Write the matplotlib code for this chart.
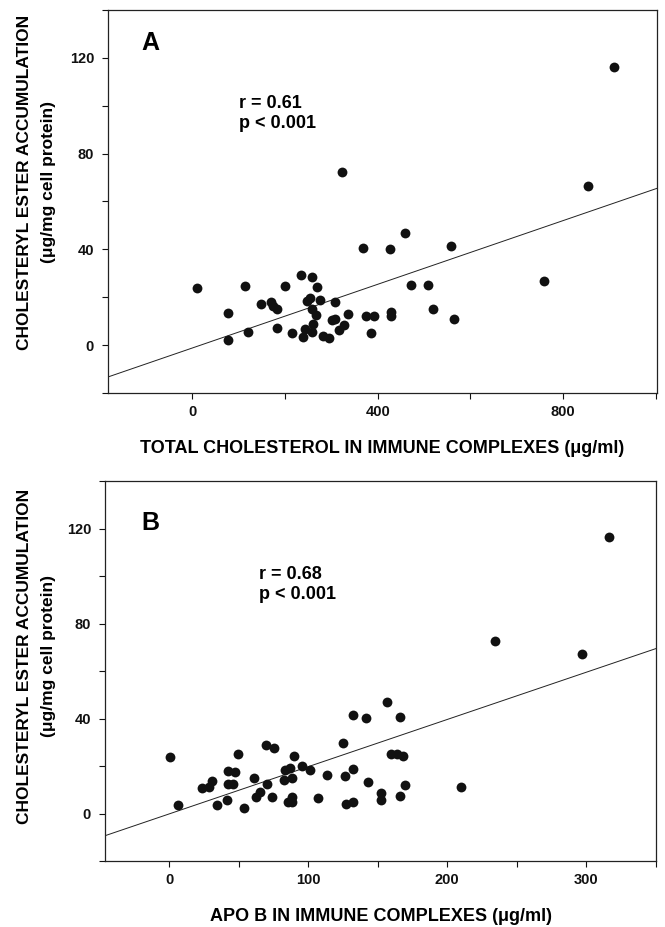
import numpy as np
import matplotlib.pyplot as plt
from matplotlib.ticker import MultipleLocator

plt.rcParams['font.family'] = ['Liberation Sans', 'DejaVu Sans']
plt.rcParams['font.weight'] = 'bold'

# panel A: total cholesterol in immune complexes (ug/ml) vs CE accumulation
chol_x = [11, 76, 76, 114, 121, 149, 170, 175, 183, 183, 199, 216, 235, 238,
          243, 248, 254, 258, 259, 260, 259, 269, 268, 275, 282, 296, 302, 307,
          308, 316, 327, 337, 368, 375, 385, 393, 427, 428, 428, 459, 472, 508,
          520, 558, 565, 759, 853, 323, 910]
chol_y = [23.8, 13.6, 2.2, 24.9, 5.3, 17.2, 18.2, 16.4, 15.0, 7.0, 24.7, 5.0,
          29.5, 3.4, 6.8, 18.4, 19.8, 28.6, 15.3, 8.7, 5.5, 24.2, 12.4, 19.0,
          3.9, 3.1, 10.3, 11.1, 18.2, 6.4, 8.5, 13.1, 40.7, 12.2, 4.9, 12.0,
          40.2, 14.0, 12.0, 46.8, 25.0, 25.0, 15.2, 41.5, 11.1, 26.9, 66.6,
          72.2, 116.0]

# panel B: apo B in immune complexes (ug/ml) vs CE accumulation
apob_x = [0.8, 6.4, 23.4, 28.8, 30.6, 34.5, 42, 42.7, 42.7, 45.8, 47.6, 49.7,
          53.6, 60.8, 62.6, 65.7, 69.5, 70.6, 73.9, 75.7, 82.4, 83.4, 85.8,
          86.8, 88.1, 88.1, 88.6, 89.6, 95.5, 101.5, 107.1, 113.3, 125.2,
          126.2, 127, 132.1, 132.4, 132.4, 141.9, 142.9, 152.2, 152.2, 156.6,
          159.4, 163.5, 166.1, 165.8, 168.2, 169.7, 209.9, 234, 297, 316.5]
apob_y = [23.9, 3.7, 10.7, 11.1, 13.7, 3.6, 5.8, 18.1, 12.6, 12.6, 17.4, 25.1,
          2.4, 15.0, 6.9, 9.0, 28.7, 12.5, 6.9, 27.4, 14.2, 18.5, 5.0, 19.2,
          7.1, 4.9, 15.0, 24.3, 19.9, 18.3, 6.7, 16.1, 29.6, 15.6, 4.0, 18.7,
          41.5, 5.0, 40.1, 13.2, 8.7, 5.7, 46.8, 25.1, 25.0, 40.6, 7.5, 24.3,
          11.9, 11.2, 72.5, 67.0, 116.5]

# regression lines as drawn (slope, intercept)
fit_a = (0.0665, -1.2)
fit_b = (0.199, -0.2)

W, H = 665, 927
fig = plt.figure(figsize=(W / 100, H / 100), dpi=100)


def px_axes(left, top, right, bottom):
    return fig.add_axes([left / W, 1 - bottom / H, (right - left) / W, (bottom - top) / H])


def panel(ax, x, y, fit, xlim, xmajor, xminor, letter, letter_pos, stats, stats_pos, xlabel):
    ax.scatter(x, y, s=50, color='#111111', linewidths=0, zorder=3)
    xs = np.array(xlim)
    ax.plot(xs, fit[0] * xs + fit[1], color='#222222', lw=0.7)
    ax.set_xlim(xlim)
    ax.set_ylim(-20, 140)
    ax.xaxis.set_major_locator(MultipleLocator(xmajor))
    ax.xaxis.set_minor_locator(MultipleLocator(xminor))
    ax.yaxis.set_major_locator(MultipleLocator(40))
    ax.yaxis.set_minor_locator(MultipleLocator(20))
    ax.tick_params(which='both', direction='out', length=4, width=0.8,
                   top=False, right=False, labelsize=10.5, colors='#111111')
    ax.tick_params(axis='y', pad=6)
    ax.tick_params(axis='x', pad=5)
    for sp in ax.spines.values():
        sp.set_linewidth(0.9)
        sp.set_color('#222222')
    ax.text(*letter_pos, letter, transform=ax.transAxes, fontsize=18,
            fontweight='bold', ha='center', va='center')
    ax.text(*stats_pos, stats, transform=ax.transAxes, fontsize=13,
            fontweight='bold', ha='left', va='top', linespacing=1.2)
    ax.set_xlabel(xlabel, fontsize=13, fontweight='bold', labelpad=15)


ax_a = px_axes(108, 10, 657, 393)
panel(ax_a, chol_x, chol_y, fit_a, (-182, 1003), 400, 200, 'A', (0.0765, 0.914),
      'r = 0.61\np < 0.001', (0.2386, 0.778),
      'TOTAL CHOLESTEROL IN IMMUNE COMPLEXES (\u03bcg/ml)')

ax_b = px_axes(105, 481, 656, 861)
panel(ax_b, apob_x, apob_y, fit_b, (-46, 350), 100, 50, 'B', (0.0817, 0.89),
      'r = 0.68\np < 0.001', (0.2795, 0.776),
      'APO B IN IMMUNE COMPLEXES (\u03bcg/ml)')

# two-line y labels, placed like the original
for yc in (182, 656):
    fig.text(25 / W, 1 - yc / H, 'CHOLESTERYL ESTER ACCUMULATION', rotation=90,
             fontsize=12.5, fontweight='bold', ha='center', va='center')
    fig.text(49 / W, 1 - yc / H, '(\u03bcg/mg cell protein)', rotation=90,
             fontsize=12.5, fontweight='bold', ha='center', va='center')

fig.savefig('out.png', dpi=100)
